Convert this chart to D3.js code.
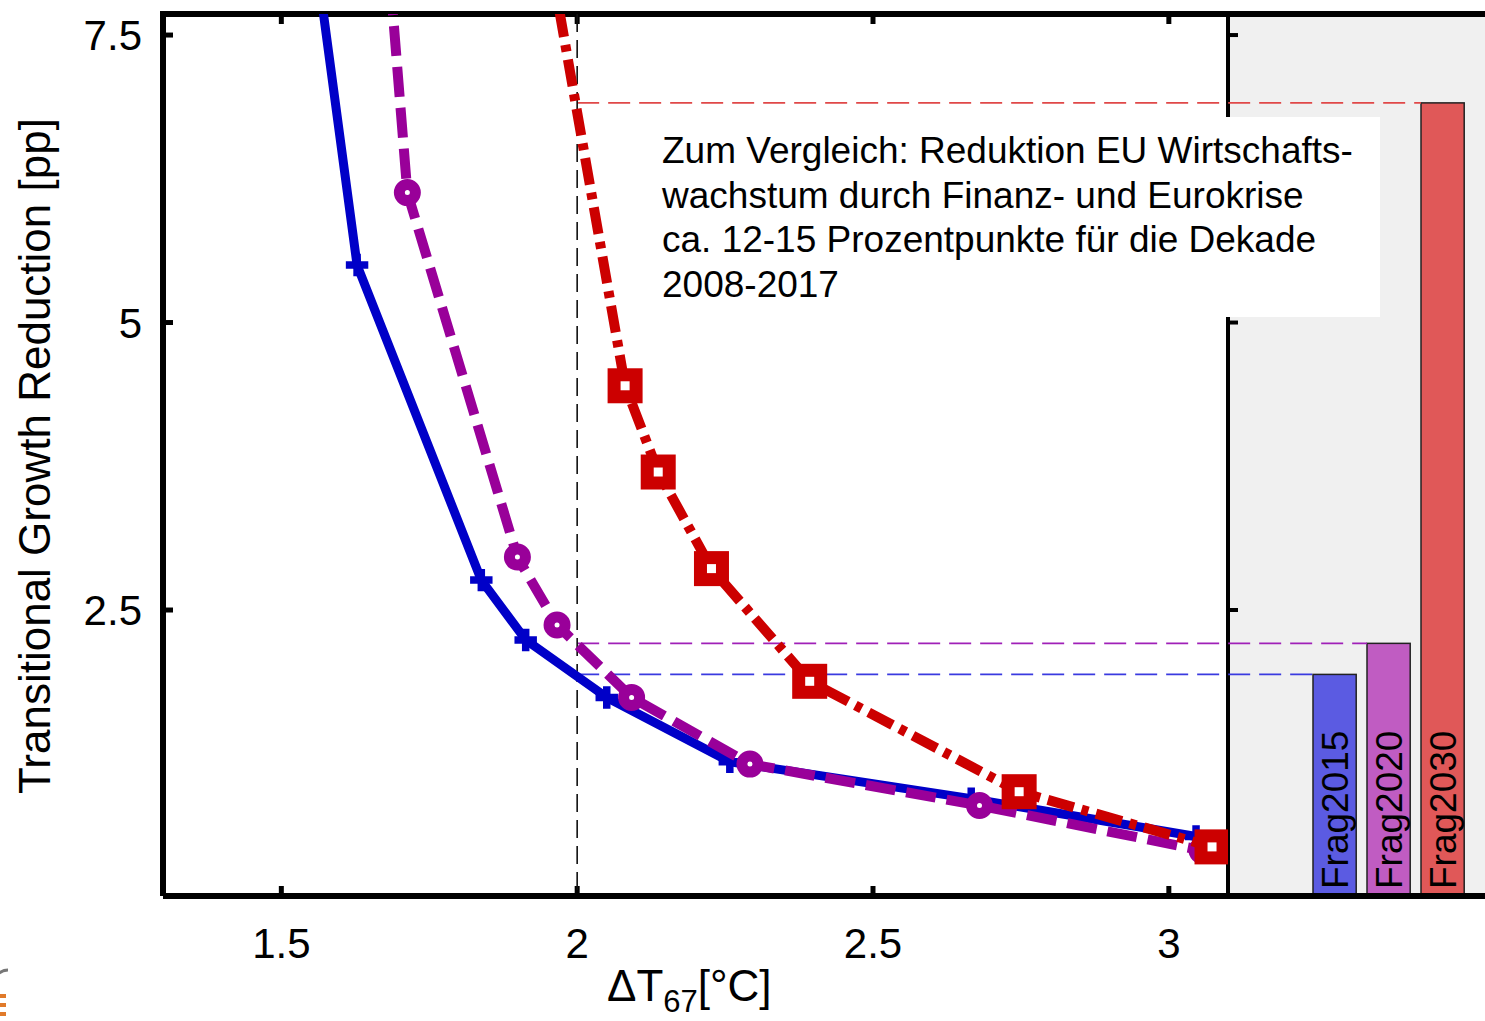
<!DOCTYPE html>
<html>
<head>
<meta charset="utf-8">
<script src="https://cdn.jsdelivr.net/npm/d3@7/dist/d3.min.js"></script>
<style>
  body { margin: 0; background: #fff; }
  svg { display: block; font-family: "Liberation Sans", Arial, sans-serif; }
</style>
</head>
<body>
<div id="chart"></div>
<script>
// Data (first point of each curve lies above the top edge)
const blueX   = [1.55, 1.628, 1.838, 1.913, 2.050, 2.258, 2.666, 3.046];
const blueY   = [8.5, 5.50, 2.76, 2.24, 1.74, 1.18, 0.86, 0.53];
const purpleX = [1.668, 1.713, 1.899, 1.966, 2.092, 2.292, 2.680, 3.056];
const purpleY = [9.0, 6.13, 2.96, 2.37, 1.74, 1.16, 0.80, 0.41];
const redX    = [1.926, 2.081, 2.137, 2.227, 2.393, 2.747, 3.073];
const redY    = [9.0, 4.45, 3.70, 2.86, 1.88, 0.92, 0.44];

const barNames  = ['Frag2015', 'Frag2020', 'Frag2030'];
const barValues = [1.94, 2.21, 6.91];
const barColors = ['#5b5be2', '#c05cc2', '#e05858'];
const refColors = ['#3a3ae0', '#a020b8', '#e04848'];

const xTicks = [1.5, 2, 2.5, 3];
const yTicks = [2.5, 5, 7.5];
const refX = 2;

const noteLines = [
  'Zum Vergleich: Reduktion EU Wirtschafts-',
  'wachstum durch Finanz- und Eurokrise',
  'ca. 12-15 Prozentpunkte für die Dekade',
  '2008-2017'
];

const W = 1485, H = 1021;
const pL = 163, pR = 1228, pT = 14, pB = 896;

const svg = d3.select('#chart').append('svg')
    .attr('width', W)
    .attr('height', H);

const x = d3.scaleLinear().domain([1.3, 3.1]).range([pL, pR]);
const y = d3.scaleLinear().domain([0.013, 7.683]).range([pB, pT]);
const xb = d3.scaleBand().domain(barNames).range([1307.6, 1469.6])
    .paddingInner(0.2).paddingOuter(0.1);

svg.append('clipPath').attr('id', 'plot-clip')
  .append('rect')
    .attr('x', pL).attr('y', pT)
    .attr('width', pR - pL).attr('height', pB - pT);

// right grey panel
svg.append('rect')
    .attr('x', pR).attr('y', pT)
    .attr('width', W - pR).attr('height', pB - pT)
    .attr('fill', '#f0f0f0');

// bars
svg.selectAll('.bar')
  .data(barNames)
  .enter().append('rect')
    .attr('class', 'bar')
    .attr('x', d => xb(d))
    .attr('y', (d, i) => y(barValues[i]))
    .attr('width', xb.bandwidth())
    .attr('height', (d, i) => pB - y(barValues[i]))
    .attr('fill', (d, i) => barColors[i])
    .attr('stroke', '#222')
    .attr('stroke-width', 1.5);

svg.selectAll('.bar-label')
  .data(barNames)
  .enter().append('text')
    .attr('class', 'bar-label')
    .attr('transform', d => `translate(${xb(d) + xb.bandwidth() / 2 + 13},${pB - 7}) rotate(-90)`)
    .attr('font-size', 37)
    .attr('fill', '#000')
    .text(d => d);

// frame and ticks
const frame = svg.append('g').attr('stroke', '#000').attr('fill', 'none');
frame.append('path')
    .attr('d', `M${pL},${pB}V${pT}H${W}`)
    .attr('stroke-width', 6);
frame.append('path')
    .attr('d', `M${pL},${pB}H${W}`)
    .attr('stroke-width', 6);
frame.append('line')
    .attr('x1', pR).attr('x2', pR)
    .attr('y1', pT).attr('y2', pB)
    .attr('stroke-width', 4);

xTicks.forEach(t => {
  frame.append('line').attr('x1', x(t)).attr('x2', x(t))
      .attr('y1', pB).attr('y2', pB - 10).attr('stroke-width', 5);
  frame.append('line').attr('x1', x(t)).attr('x2', x(t))
      .attr('y1', pT).attr('y2', pT + 10).attr('stroke-width', 5);
});
yTicks.forEach(t => {
  frame.append('line').attr('x1', pL).attr('x2', pL + 10)
      .attr('y1', y(t)).attr('y2', y(t)).attr('stroke-width', 5);
  frame.append('line').attr('x1', pR).attr('x2', pR + 10)
      .attr('y1', y(t)).attr('y2', y(t)).attr('stroke-width', 4);
});

// annotation box (sits over the bar panel axis, under the curves)
svg.append('rect')
    .attr('x', 598).attr('y', 117)
    .attr('width', 782).attr('height', 200)
    .attr('fill', '#fff');

// reference dashed lines
svg.selectAll('.ref')
  .data(barNames)
  .enter().append('line')
    .attr('class', 'ref')
    .attr('x1', x(refX))
    .attr('x2', d => xb(d))
    .attr('y1', (d, i) => y(barValues[i]))
    .attr('y2', (d, i) => y(barValues[i]))
    .attr('stroke', (d, i) => refColors[i])
    .attr('stroke-width', 1.6)
    .attr('stroke-dasharray', '22,9');

svg.append('line')
    .attr('x1', x(refX)).attr('x2', x(refX))
    .attr('y1', pT).attr('y2', pB)
    .attr('stroke', '#111')
    .attr('stroke-width', 1.6)
    .attr('stroke-dasharray', '18,8');

// curves
const plot = svg.append('g').attr('clip-path', 'url(#plot-clip)');
const line = d3.line().x(d => x(d[0])).y(d => y(d[1]));

const blue = d3.zip(blueX, blueY);
const purple = d3.zip(purpleX, purpleY);
const red = d3.zip(redX, redY);

plot.append('path').datum(blue)
    .attr('d', line)
    .attr('fill', 'none')
    .attr('stroke', '#0000c8')
    .attr('stroke-width', 9)
    .attr('stroke-linejoin', 'round');

plot.selectAll('.m-blue')
  .data(blue)
  .enter().append('path')
    .attr('class', 'm-blue')
    .attr('transform', d => `translate(${x(d[0])},${y(d[1])})`)
    .attr('d', d3.symbol(d3.symbolCross, 280))
    .attr('fill', '#0000c8');

plot.append('path').datum(purple)
    .attr('d', line)
    .attr('fill', 'none')
    .attr('stroke', '#990099')
    .attr('stroke-width', 10)
    .attr('stroke-dasharray', '30,11');

plot.selectAll('.m-purple')
  .data(purple)
  .enter().append('circle')
    .attr('class', 'm-purple')
    .attr('cx', d => x(d[0]))
    .attr('cy', d => y(d[1]))
    .attr('r', 8)
    .attr('fill', '#fff')
    .attr('stroke', '#990099')
    .attr('stroke-width', 11);

plot.append('path').datum(red)
    .attr('d', line)
    .attr('fill', 'none')
    .attr('stroke', '#cc0000')
    .attr('stroke-width', 10)
    .attr('stroke-dasharray', '27,8,7,8');

plot.selectAll('.m-red')
  .data(red)
  .enter().append('rect')
    .attr('class', 'm-red')
    .attr('x', d => x(d[0]) - 11)
    .attr('y', d => y(d[1]) - 11)
    .attr('width', 22)
    .attr('height', 22)
    .attr('fill', '#fff')
    .attr('stroke', '#cc0000')
    .attr('stroke-width', 13);

// annotation text
svg.append('text')
    .attr('x', 662).attr('y', 163)
    .attr('font-size', 37)
    .attr('fill', '#000')
  .selectAll('tspan')
  .data(noteLines)
  .enter().append('tspan')
    .attr('x', 662)
    .attr('dy', (d, i) => i === 0 ? 0 : 44.5)
    .text(d => d);

// tick labels
svg.selectAll('.xt')
  .data(xTicks)
  .enter().append('text')
    .attr('class', 'xt')
    .attr('x', d => x(d))
    .attr('y', 958)
    .attr('text-anchor', 'middle')
    .attr('font-size', 42)
    .text(d => d);

svg.selectAll('.yt')
  .data(yTicks)
  .enter().append('text')
    .attr('class', 'yt')
    .attr('x', 142)
    .attr('y', d => y(d) + 15)
    .attr('text-anchor', 'end')
    .attr('font-size', 42)
    .text(d => d);

// axis titles
const xl = svg.append('text')
    .attr('x', 607).attr('y', 1001)
    .attr('font-size', 44);
xl.append('tspan').text('ΔT');
xl.append('tspan').attr('font-size', 31).attr('dy', 11).text('67');
xl.append('tspan').attr('dy', -11).text('[°C]');

svg.append('text')
    .attr('transform', 'translate(50,456) rotate(-90)')
    .attr('text-anchor', 'middle')
    .attr('font-size', 44)
    .text('Transitional Growth Reduction [pp]');

// bit of a logo cut off at the lower left
svg.append('path')
    .attr('d', 'M-6,985 A14,14 0 0 1 8,970')
    .attr('fill', 'none')
    .attr('stroke', '#777')
    .attr('stroke-width', 3);
[994, 1003, 1012].forEach(v => {
  svg.append('rect').attr('x', 0).attr('y', v).attr('width', 6).attr('height', 4)
      .attr('fill', '#e07a2a');
});
</script>
</body>
</html>
